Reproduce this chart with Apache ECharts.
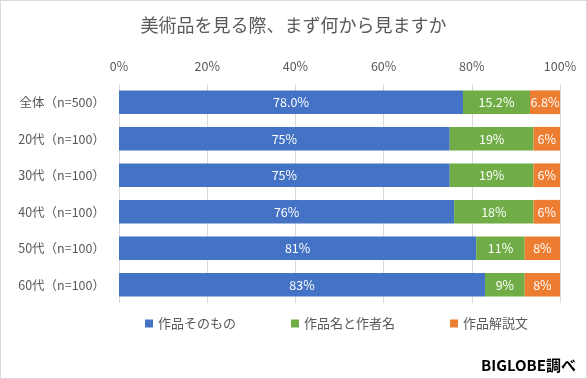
<!DOCTYPE html>
<html><head><meta charset="utf-8">
<script src="https://cdn.jsdelivr.net/npm/echarts@6/dist/echarts.min.js"></script>
<style>html,body{margin:0;padding:0;background:#fff}#c{width:587px;height:379px;box-sizing:border-box;border:1px solid #d9d9d9}</style>
</head><body><div id="c"></div>
<script>
const categories = ['全体（n=500）','20代（n=100）','30代（n=100）','40代（n=100）','50代（n=100）','60代（n=100）'];
const seriesNames = ['作品そのもの','作品名と作者名','作品解説文'];
const artwork = [78.0, 75, 75, 76, 81, 83];
const titleAuthor = [15.2, 19, 19, 18, 11, 9];
const description = [6.8, 6, 6, 6, 8, 8];
const labelDecimals = [1, 0, 0, 0, 0, 0];
const colors = ['#4472C4','#70AD47','#ED7D31'];
const font = '"Noto Sans CJK JP", "Noto Sans", sans-serif';
const chart = echarts.init(document.getElementById('c'));
function mk(name, data, color){
  return {
    name, type:'bar', stack:'s', data, barCategoryGap:'35%',
    itemStyle:{color},
    label:{show:true, position:'inside', color:'#fff', fontSize:12.5, fontFamily:font,
      formatter:p=>p.value.toFixed(labelDecimals[p.dataIndex])+'%'}
  };
}
chart.setOption({
  animation:false,
  title:{text:'美術品を見る際、まず何から見ますか', left:'center', top:10,
    textStyle:{fontSize:18, fontWeight:'normal', color:'#595959', fontFamily:font}},
  grid:{left:118, right:26, top:83, bottom:75},
  xAxis:{type:'value', position:'top', min:0, max:100, interval:20,
    axisLabel:{formatter:'{value}%', color:'#595959', fontSize:12.5, fontFamily:font, margin:11},
    splitLine:{lineStyle:{color:'#d9d9d9'}}, axisLine:{show:false}, axisTick:{show:false}},
  yAxis:{type:'category', data:categories, inverse:true,
    axisLabel:{color:'#595959', fontSize:12.5, fontFamily:font, margin:14},
    axisLine:{show:false}, axisTick:{show:false}},
  legend:{bottom:43, left:139, itemWidth:8, itemHeight:8, itemGap:55, icon:'rect',
    textStyle:{color:'#595959', fontSize:13, fontFamily:font}},
  graphic:[{type:'text', right:10, bottom:5, style:{text:'BIGLOBE調べ', fill:'#000', font:'bold 15px '+font}}],
  series:[mk(seriesNames[0], artwork, colors[0]), mk(seriesNames[1], titleAuthor, colors[1]), mk(seriesNames[2], description, colors[2])]
});
</script></body></html>
